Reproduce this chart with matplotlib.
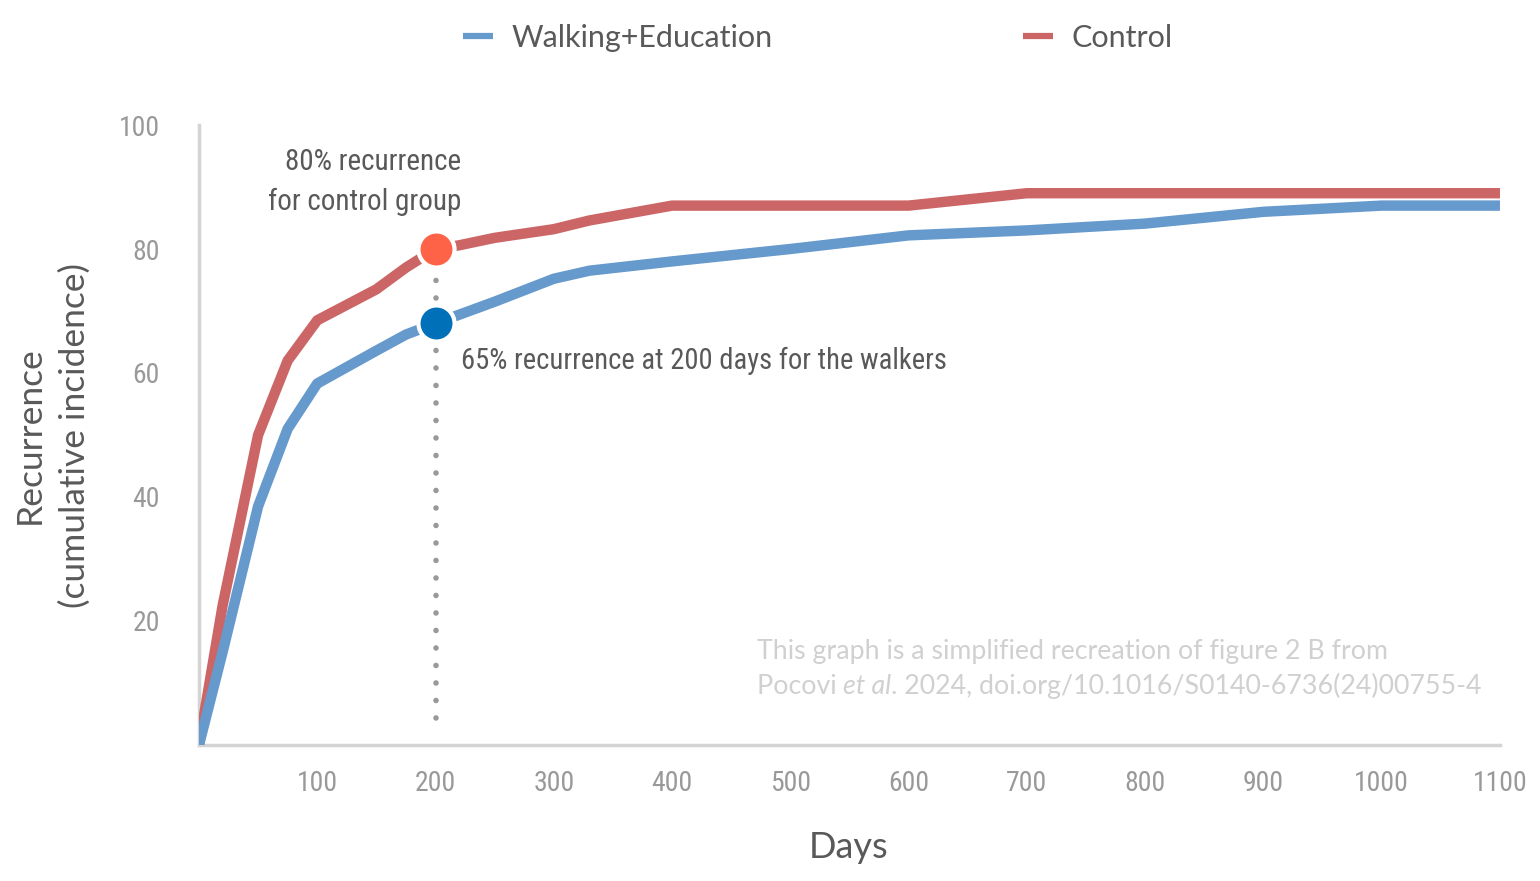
import matplotlib
matplotlib.use("Agg")
import matplotlib.pyplot as plt
from matplotlib import font_manager

# values (cumulative incidence, %)
days = [0, 20, 50, 75, 100, 150, 175, 200, 220, 250, 300, 330, 400, 500, 600, 700, 800, 900, 1000, 1100]
walking = [0, 15, 38.5, 51, 58.3, 63.6, 66.2, 68, 69.4, 71.5, 75.2, 76.5, 78, 80, 82.2, 83, 84.1, 86, 87, 87]
control = [0, 22.5, 50, 62, 68.5, 73.5, 77, 80, 80.6, 81.8, 83.2, 84.6, 87, 87, 87, 89, 89, 89, 89, 89]
xticks = [100, 200, 300, 400, 500, 600, 700, 800, 900, 1000, 1100]
yticks = [20, 40, 60, 80, 100]

# pick a narrow face for the annotations / ticks if there is one
fonts = font_manager.fontManager.ttflist
names = {f.name for f in fonts}
cond = None
for n in ["Roboto Condensed", "Open Sans Condensed", "Liberation Sans Narrow", "Noto Sans Condensed"]:
    if n in names:
        cond = {"family": n}
        break
if cond is None:
    for f in fonts:
        if f.stretch in ("condensed", "semi-condensed") and f.style == "normal" and f.weight in (400, "normal", "regular"):
            cond = {"family": f.name, "stretch": f.stretch}
            break
if cond is None:
    cond = {"family": "Roboto"}

dark = "#595959"

fig = plt.figure(figsize=(15.4, 8.81), dpi=100)
ax = fig.add_axes([0.1292, 0.1544, 0.8448, 0.7037])

red_line, = ax.plot(days, control, color="#cc6666", lw=7.5, solid_joinstyle="round", solid_capstyle="butt", label="Control", zorder=3)
blue_line, = ax.plot(days, walking, color="#6699cc", lw=7.5, solid_joinstyle="round", solid_capstyle="butt", label="Walking+Education", zorder=4)

ax.plot([200, 200], [4.4, 80], color="#999999", lw=4, ls=(0, (0.01, 3.14)), dash_capstyle="round", zorder=2)
ax.plot([200], [80], "o", ms=26, color="#ff6347", mec="white", mew=3, zorder=5)
ax.plot([200], [68], "o", ms=26, color="#0070b8", mec="white", mew=3, zorder=5)

ax.text(221.5, 90.8, "80% recurrence\nfor control group", ha="right", va="center", fontsize=21,
        color=dark, linespacing=1.5, **cond)
ax.text(221.5, 61.9, "65% recurrence at 200 days for the walkers", ha="left", va="center", fontsize=20.6,
        color=dark, **cond)

note = dict(fontsize=19.3, color="#d0d0d0", family="Lato")
ax.text(471.5, 15.1, "This graph is a simplified recreation of figure 2 B from", va="center", **note)
t1 = ax.text(471.5, 9.5, "Pocovi ", va="center", **note)
t2 = ax.annotate("et al", xy=(1, 0), xycoords=t1, va="bottom", style="italic", **note)
ax.annotate(". 2024, doi.org/10.1016/S0140-6736(24)00755-4", xy=(1, 0), xycoords=t2, va="bottom", **note)

ax.set_xlim(0, 1100)
ax.set_ylim(0, 100)
ax.set_xticks(xticks)
ax.set_yticks(yticks)
ax.tick_params(length=0, labelsize=20, labelcolor="#999999")
ax.tick_params(axis="x", pad=18)
ax.tick_params(axis="y", pad=28)
for lab in ax.get_xticklabels() + ax.get_yticklabels():
    lab.set_family(cond["family"])
    if "stretch" in cond:
        lab.set_stretch(cond["stretch"])

for s in ["top", "right"]:
    ax.spines[s].set_visible(False)
for s in ["left", "bottom"]:
    ax.spines[s].set_color("#d4d4d4")
    ax.spines[s].set_linewidth(2.5)

fig.text(849 / 1540, 1 - 847 / 881, "Days", ha="center", va="center", fontsize=26, color=dark, family="Lato")
fig.text(52 / 1540, 1 - 435 / 881, "Recurrence\n(cumulative incidence)", ha="center", va="center", rotation=90,
         fontsize=25.5, color=dark, family="Lato", linespacing=1.5)

leg = fig.legend(handles=[blue_line, red_line], loc="center left", bbox_to_anchor=(463 / 1540, 1 - 38 / 881),
                 ncol=2, frameon=False, borderpad=0, borderaxespad=0, handlelength=0.98, handletextpad=0.6,
                 columnspacing=8.2, labelcolor=dark, prop={"family": "Lato", "size": 22})
for ln in leg.get_lines():
    ln.set_linewidth(4.5)

fig.savefig("out.png", dpi=100)
